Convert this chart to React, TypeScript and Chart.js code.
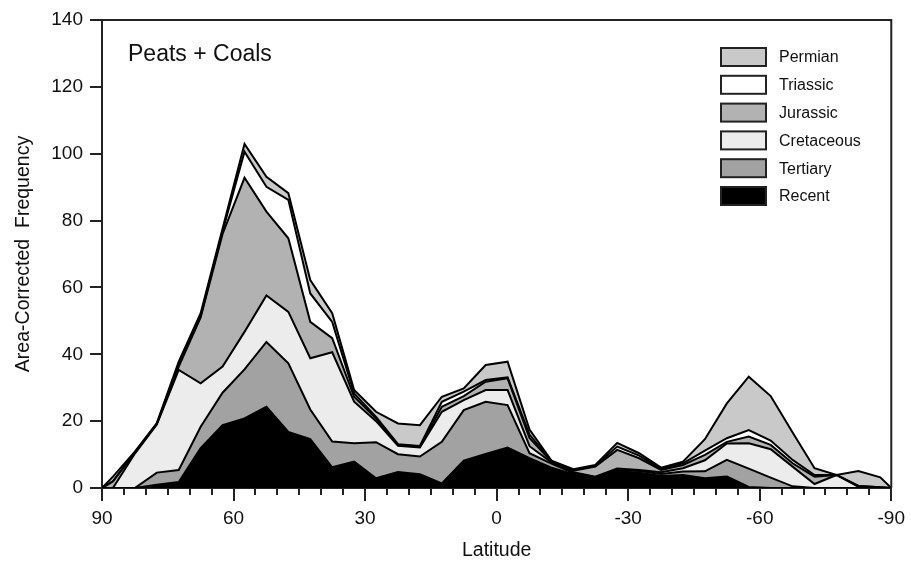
import { useEffect, useRef } from 'react';
import { Chart, registerables } from 'chart.js';

Chart.register(...registerables);

const latitudes = [90, 87.5, 82.5, 77.5, 72.5, 67.5, 62.5, 57.5, 52.5, 47.5, 42.5, 37.5, 32.5, 27.5, 22.5, 17.5, 12.5, 7.5, 2.5, -2.5, -7.5, -12.5, -17.5, -22.5, -27.5, -32.5, -37.5, -42.5, -47.5, -52.5, -57.5, -62.5, -67.5, -72.5, -77.5, -82.5, -87.5, -90];

const recent = [0, 0, 0, 1, 1.8, 11.9, 18.8, 20.8, 24.3, 16.8, 14.6, 6.2, 7.9, 2.9, 4.8, 4.1, 1.4, 8.2, 10.2, 12.1, 8.9, 6.1, 4.1, 2.9, 5.0, 4.6, 3.6, 3.9, 2.9, 3.4, 0.3, 0, 0, 0, 0, 0, 0, 0];
const tertiary = [0, 0, 0, 3.6, 3.6, 6.4, 9.7, 14.7, 19.4, 20.5, 8.9, 7.7, 5.5, 10.8, 5.3, 5.3, 12.4, 15.1, 15.6, 12.7, 1.5, 1.2, 0.4, 0.3, 0.4, 0.5, 0.6, 1.0, 2.1, 5.0, 5.5, 3.1, 0.5, 0, 0, 0, 0, 0];
const cretaceous = [0, 0, 10.3, 14.4, 29.9, 13, 7.8, 11.2, 13.9, 15.4, 15.3, 26.7, 12.4, 6.3, 2.5, 2.7, 9.0, 3.0, 3.5, 4.5, 2.1, 0.4, 0.2, 0.2, 0.4, 0.3, 0.5, 1.0, 3.3, 4.9, 7.6, 8.5, 5.9, 1.2, 3.9, 0.4, 0, 0];
const jurassic = [0, 2, 0.3, 0.2, 1.0, 19.7, 39.7, 46.1, 25.1, 22.0, 10.9, 4.2, 1.5, 0.8, 0.3, 0.3, 1.5, 1.2, 2.5, 3.5, 2.5, 0.2, 0.5, 3.0, 5.6, 3.5, 0.7, 1.0, 1.6, 0.5, 2.0, 1.3, 1.0, 2.2, 0, 0.2, 0.2, 0];
const triassic = [0, 0, 0, 0, 0.7, 0.5, 0.8, 7.8, 7.4, 11.5, 8.5, 4.9, 1.0, 0.5, 0.2, 0.2, 1.5, 1.3, 0.5, 0.3, 1.0, 0.1, 0.2, 0.2, 1.0, 0.8, 0.4, 0.5, 1.3, 1.1, 1.9, 1.3, 1.0, 0.5, 0, 0, 0, 0];
const permian = [0, 1.4, 0.3, 0.2, 0.8, 0.8, 0.8, 2.3, 3.0, 2.0, 4.0, 2.6, 1.0, 1.5, 6.2, 6.2, 1.5, 1.0, 4.5, 4.7, 1.5, 0.2, 0.2, 0.3, 1.1, 0.7, 0.3, 0.5, 3.4, 10.4, 16.0, 13.3, 8.2, 2.0, 0, 4.5, 3.0, 0];

const seriesNames = ['Recent', 'Tertiary', 'Cretaceous', 'Jurassic', 'Triassic', 'Permian'];
const seriesValues = [recent, tertiary, cretaceous, jurassic, triassic, permian];
const seriesColors = ['#000000', '#a2a2a2', '#ececec', '#b2b2b2', '#ffffff', '#c9c9c9'];

const xTicks = [90, 60, 30, 0, -30, -60, -90];
const yTicks = [0, 20, 40, 60, 80, 100, 120, 140];
const chartTitle = 'Peats + Coals';
const xTitle = 'Latitude';
const yTitle = 'Area-Corrected  Frequency';

const FONT = "'Liberation Sans', Arial, Helvetica, sans-serif";
const AXIS = '#222222';

const decorPlugin = {
  id: 'decor',
  afterDraw(chart: any) {
    const { ctx, chartArea } = chart;
    const xs = chart.scales.x;
    ctx.save();
    ctx.strokeStyle = AXIS;
    ctx.lineWidth = 2;
    ctx.beginPath();
    ctx.moveTo(chartArea.left, chartArea.top);
    ctx.lineTo(chartArea.right, chartArea.top);
    ctx.lineTo(chartArea.right, chartArea.bottom);
    ctx.stroke();
    ctx.beginPath();
    for (let v = -85; v <= 85; v += 5) {
      if (v % 30 === 0) continue;
      const px = Math.round(xs.getPixelForValue(v));
      ctx.moveTo(px, chartArea.bottom);
      ctx.lineTo(px, chartArea.bottom + 7);
    }
    ctx.stroke();
    ctx.fillStyle = '#111';
    ctx.font = `23px ${FONT}`;
    ctx.textBaseline = 'middle';
    ctx.textAlign = 'left';
    ctx.fillText(chartTitle, chartArea.left + 26, chartArea.top + 35);
    ctx.font = `16px ${FONT}`;
    const order = [5, 4, 3, 2, 1, 0];
    order.forEach((di, i) => {
      const cy = 57 + i * 27.8;
      const bx = 721;
      ctx.fillStyle = seriesColors[di];
      ctx.fillRect(bx, cy - 9, 45, 18);
      ctx.strokeStyle = '#222';
      ctx.lineWidth = 2;
      ctx.strokeRect(bx, cy - 9, 45, 18);
      ctx.fillStyle = '#111';
      ctx.fillText(seriesNames[di], 779, cy + 1);
    });
    ctx.restore();
  },
};

export default function App() {
  const ref = useRef<HTMLCanvasElement | null>(null);
  useEffect(() => {
    document.body.style.margin = '0';
    if (!ref.current) return;
    const datasets = seriesValues.map((vals, i) => ({
      label: seriesNames[i],
      data: latitudes.map((lat, j) => ({ x: lat, y: vals[j] })),
      backgroundColor: seriesColors[i],
      borderColor: '#000',
      borderWidth: 2,
      pointRadius: 0,
      tension: 0,
      fill: i === 0 ? 'origin' : '-1',
    }));
    const chart = new Chart(ref.current, {
      type: 'line',
      data: { datasets },
      plugins: [decorPlugin],
      options: {
        animation: false,
        responsive: true,
        maintainAspectRatio: false,
        layout: { padding: { top: 20, right: 18, left: 0, bottom: 0 } },
        plugins: {
          legend: { display: false },
          tooltip: { enabled: false },
          filler: { drawTime: 'beforeDatasetsDraw' },
        },
        scales: {
          x: {
            type: 'linear',
            reverse: true,
            min: -90,
            max: 90,
            afterFit: (s: any) => { s.height = 77; },
            afterBuildTicks: (s: any) => { s.ticks = xTicks.map((v) => ({ value: v })); },
            ticks: {
              autoSkip: false,
              maxRotation: 0,
              padding: 6,
              color: '#111',
              font: { family: FONT, size: 19 },
              callback: (v: any) => String(v),
            },
            grid: { drawOnChartArea: false, tickLength: 13, color: AXIS, lineWidth: 2 },
            border: { display: true, color: AXIS, width: 2 },
            title: { display: true, text: xTitle, color: '#111', font: { family: FONT, size: 19.5 }, padding: { top: 0, bottom: 3 } },
          },
          y: {
            stacked: true,
            min: 0,
            max: 140,
            afterFit: (s: any) => { s.width = 102; },
            afterBuildTicks: (s: any) => { s.ticks = yTicks.map((v) => ({ value: v })); },
            ticks: {
              padding: 7,
              color: '#111',
              font: { family: FONT, size: 19 },
              callback: (v: any) => String(v),
            },
            grid: { drawOnChartArea: false, tickLength: 12, color: AXIS, lineWidth: 2 },
            border: { display: true, color: AXIS, width: 2 },
            title: { display: true, text: yTitle, color: '#111', font: { family: FONT, size: 19.5 }, padding: { top: 12, bottom: 0 } },
          },
        },
      } as any,
    });
    return () => chart.destroy();
  }, []);
  return (
    <div style={{ position: 'relative', width: '911px', height: '565px' }}>
      <canvas ref={ref} />
    </div>
  );
}
